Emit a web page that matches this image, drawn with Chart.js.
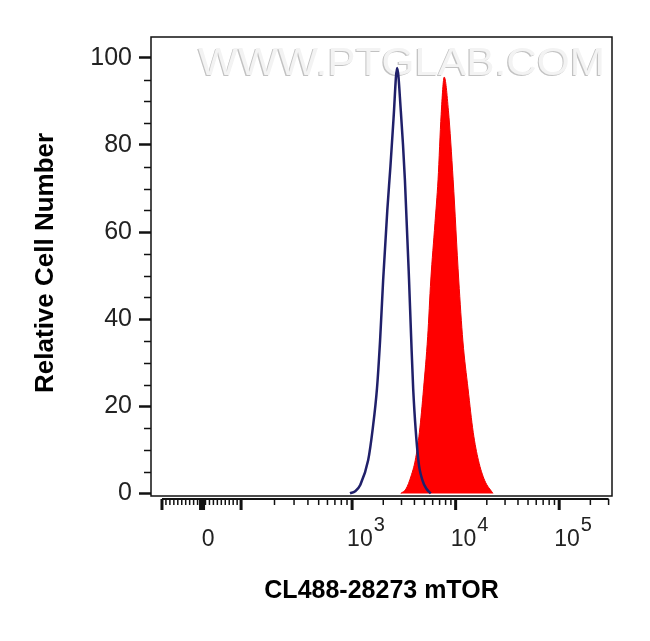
<!DOCTYPE html>
<html>
<head>
<meta charset="utf-8">
<script src="https://cdn.jsdelivr.net/npm/chart.js@4.4.1/dist/chart.umd.min.js"></script>
<style>
  body { margin: 0; background: #fff; }
  #wrap { width: 650px; height: 641px; }
</style>
</head>
<body>
<div id="wrap"><canvas id="chart"></canvas></div>
<script>
// x = log10 of fluorescence intensity, y = relative cell number (% of max)
const controlLogX = [2.98, 3.03, 3.08, 3.155, 3.20, 3.24, 3.27, 3.30, 3.34, 3.37, 3.40, 3.435, 3.47, 3.51, 3.55, 3.57, 3.59, 3.64, 3.68, 3.72, 3.76];
const controlY    = [0,    0.5,  2,    7.6,   15,   24,   35,   49,   65,   75,   86,   97.7,  88,   72,   49,   36,   24,   7.6,  3,    1,    0];
const mtorLogX = [3.47, 3.52, 3.57, 3.61, 3.65, 3.69, 3.73, 3.76, 3.80, 3.83, 3.86, 3.89, 3.93, 3.976, 4.03, 4.07, 4.12, 4.17, 4.22, 4.28, 4.36];
const mtorY    = [0,    1,    4,    7.6,  14,   24,   36,   49,   62,   72,   87,   95.6, 88,   72,    49,   35,   24,   14,   7.6,  3,    0];

const yTickValues = [0, 20, 40, 60, 80, 100];
// biexponential axis: where the labelled ticks sit, in decade units
const xLabelPos  = [1.551, 3, 4, 5];
const xLabelBase = ['0', '10', '10', '10'];
const xLabelExp  = ['', '3', '4', '5'];
const xTitle = 'CL488-28273 mTOR';
const yTitle = ' Relative Cell Number';
const watermark = 'WWW.PTGLAB.COM';

const FONT = '"Liberation Sans", Arial, sans-serif';

// tick marks on the x axis (decade units)
const xMajorTicks = [1.164, 1.551, 1.928, 3, 4, 5];
const xMinorTicks = [];
for (let i = 1; i < 20; i++) {
    if (i !== 10) xMinorTicks.push(1.164 + i * (1.928 - 1.164) / 20);
}
for (let k = 2; k < 10; k++) {
    xMinorTicks.push(1.928 + Math.log10(k) * (3 - 1.928));
    xMinorTicks.push(3 + Math.log10(k));
    xMinorTicks.push(4 + Math.log10(k));
}
xMinorTicks.push(5 + Math.log10(2), 5 + Math.log10(3));

const flowAxes = {
    id: 'flowAxes',
    beforeDatasetsDraw(chart) {
        const { ctx, chartArea: a } = chart;
        ctx.save();
        ctx.font = '38px ' + FONT;
        const w = ctx.measureText(watermark).width;
        ctx.translate(a.left + 47, a.top + 38);
        ctx.scale(407 / w, 1);
        ctx.fillStyle = '#c2c2c2';
        ctx.fillText(watermark, -1, 1.2);
        ctx.fillStyle = '#f3f3f3';
        ctx.fillText(watermark, 0, 0);
        ctx.restore();
    },
    afterDraw(chart) {
        const { ctx, chartArea: a, scales: { x, y } } = chart;
        ctx.save();
        ctx.strokeStyle = '#111';
        ctx.lineWidth = 1.5;
        ctx.strokeRect(a.left, a.top, a.right - a.left, a.bottom - a.top);

        // y minor ticks
        ctx.lineWidth = 1.5;
        for (let v = 5; v < 105; v += 5) {
            if (v % 20 === 0) continue;
            const py = Math.round(y.getPixelForValue(v)) + 0.5;
            ctx.beginPath();
            ctx.moveTo(a.left - 7, py);
            ctx.lineTo(a.left, py);
            ctx.stroke();
        }

        // x tick bar
        const base = a.bottom + 3;
        ctx.lineWidth = 2;
        ctx.beginPath();
        ctx.moveTo(x.getPixelForValue(1.164), base);
        ctx.lineTo(x.getPixelForValue(5 + Math.log10(3)), base);
        ctx.stroke();
        ctx.lineWidth = 1.5;
        xMinorTicks.forEach(v => {
            const px = x.getPixelForValue(v);
            ctx.beginPath();
            ctx.moveTo(px, base);
            ctx.lineTo(px, base + 6);
            ctx.stroke();
        });
        xMajorTicks.forEach(v => {
            const px = x.getPixelForValue(v);
            ctx.lineWidth = v === 1.551 ? 6 : 3;
            ctx.beginPath();
            ctx.moveTo(px, base);
            ctx.lineTo(px, base + 11);
            ctx.stroke();
        });

        // x labels with raised exponents
        ctx.fillStyle = '#222';
        ctx.textBaseline = 'alphabetic';
        xLabelPos.forEach((v, i) => {
            const px = x.getPixelForValue(v);
            ctx.font = '23px ' + FONT;
            if (!xLabelExp[i]) {
                ctx.textAlign = 'center';
                ctx.fillText(xLabelBase[i], px + 6, 546);
                return;
            }
            ctx.textAlign = 'left';
            ctx.fillText(xLabelBase[i], px - 5, 546);
            const bw = ctx.measureText(xLabelBase[i]).width;
            ctx.font = '20px ' + FONT;
            ctx.fillText(xLabelExp[i], px - 5 + bw + 1, 531);
        });
        ctx.restore();
    }
};

new Chart(document.getElementById('chart'), {
    type: 'line',
    data: {
        datasets: [
            {
                label: 'Control',
                data: controlLogX.map((v, i) => ({ x: v, y: controlY[i] })),
                borderColor: '#20206a',
                borderWidth: 2.5,
                fill: false,
                pointRadius: 0,
                cubicInterpolationMode: 'monotone'
            },
            {
                label: 'mTOR',
                data: mtorLogX.map((v, i) => ({ x: v, y: mtorY[i] })),
                borderColor: '#f00000',
                backgroundColor: '#ff0000',
                borderWidth: 1,
                fill: 'origin',
                pointRadius: 0,
                cubicInterpolationMode: 'monotone'
            }
        ]
    },
    options: {
        responsive: true,
        maintainAspectRatio: false,
        animation: false,
        layout: { padding: { top: 37, right: 38, left: 0, bottom: 0 } },
        plugins: { legend: { display: false }, tooltip: { enabled: false } },
        scales: {
            x: {
                type: 'linear',
                min: 1.058,
                max: 5.51,
                afterFit: s => { s.height = 145; },
                grid: { display: false },
                border: { display: false },
                ticks: { display: false },
                title: {
                    display: true,
                    text: xTitle,
                    color: '#000',
                    font: { family: FONT, size: 25, weight: 'bold' },
                    padding: { top: 0, bottom: 35 }
                }
            },
            y: {
                min: -0.6,
                max: 104.8,
                afterFit: s => { s.width = 151; },
                afterBuildTicks: s => { s.ticks = yTickValues.map(v => ({ value: v })); },
                grid: {
                    drawOnChartArea: false,
                    drawTicks: true,
                    tickLength: 12,
                    tickWidth: 2.5,
                    tickColor: '#111'
                },
                border: { display: false },
                ticks: {
                    padding: 7,
                    color: '#222',
                    font: { family: FONT, size: 25 }
                },
                title: {
                    display: true,
                    text: yTitle,
                    color: '#000',
                    font: { family: FONT, size: 26, weight: 'bold' },
                    padding: { top: 30, bottom: 0 }
                }
            }
        }
    },
    plugins: [flowAxes]
});
</script>
</body>
</html>
